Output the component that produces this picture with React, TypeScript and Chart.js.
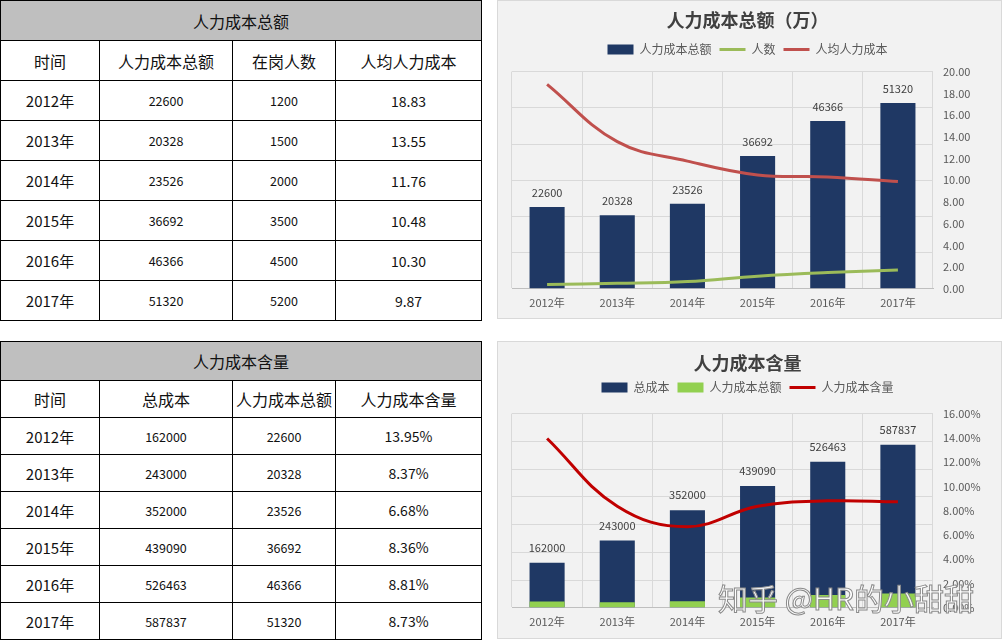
import React, { useEffect, useRef } from "react";
import { Chart, registerables } from "chart.js";

Chart.register(...registerables);

const FONT = '"Noto Sans CJK SC", "Noto Sans", "DejaVu Sans", sans-serif';

// ---- data ----
const years = ["2012年", "2013年", "2014年", "2015年", "2016年", "2017年"];
const laborCost = [22600, 20328, 23526, 36692, 46366, 51320];
const headcount = [1200, 1500, 2000, 3500, 4500, 5200];
const perCapita = [18.83, 13.55, 11.76, 10.48, 10.3, 9.87];
const totalCost = [162000, 243000, 352000, 439090, 526463, 587837];
const laborShare = [13.95, 8.37, 6.68, 8.36, 8.81, 8.73];

const table1Title = "人力成本总额";
const table1Headers = ["时间", "人力成本总额", "在岗人数", "人均人力成本"];
const table2Title = "人力成本含量";
const table2Headers = ["时间", "总成本", "人力成本总额", "人力成本含量"];

const chart1Title = "人力成本总额（万）";
const chart1Legend = ["人力成本总额", "人数", "人均人力成本"];
const chart2Title = "人力成本含量";
const chart2Legend = ["总成本", "人力成本总额", "人力成本含量"];

const watermark = "知乎 @HR的小甜甜";

// ---- plugins ----
const barLabels = {
  id: "barLabels",
  afterDatasetsDraw(chart: any, _args: any, opts: any) {
    const idx = opts && opts.datasetIndex;
    if (idx == null) return;
    const meta = chart.getDatasetMeta(idx);
    const data = chart.data.datasets[idx].data;
    const ctx = chart.ctx;
    ctx.save();
    ctx.font = `11px ${FONT}`;
    ctx.fillStyle = "#404040";
    ctx.textAlign = "center";
    ctx.textBaseline = "middle";
    meta.data.forEach((el: any, i: number) => {
      ctx.fillText(String(data[i]), el.x, el.y - (opts.offset || 14));
    });
    ctx.restore();
  },
};

const legendGap = (gap: number) => ({
  id: "legendGap",
  beforeInit(chart: any) {
    const legend = chart.legend;
    if (legend && !legend.__gapPatched) {
      const orig = legend.fit;
      legend.fit = function () {
        orig.call(this);
        this.height += gap;
      };
      legend.__gapPatched = true;
    }
  },
});

const legendOpts = {
  position: "top",
  labels: {
    usePointStyle: true,
    pointStyleWidth: 26,
    boxHeight: 10,
    padding: 8,
    color: "#595959",
    font: { size: 12, family: FONT },
    sort: (a: any, b: any) => a.datasetIndex - b.datasetIndex,
  },
};

const titleOpts = (text: string, top: number, bottom: number) => ({
  display: true,
  text,
  color: "#404040",
  font: { size: 18, weight: "bold", family: FONT },
  padding: { top, bottom },
});

const xScale = (stacked: boolean) => ({
  stacked,
  offset: true,
  grid: { color: "#d9d9d9", offset: true, drawTicks: false },
  border: { color: "#bfbfbf" },
  ticks: { color: "#595959", font: { size: 11, family: FONT }, padding: 7 },
});

function chart1Config(): any {
  return {
    type: "bar",
    data: {
      labels: years,
      datasets: [
        {
          type: "bar",
          label: chart1Legend[0],
          data: laborCost,
          backgroundColor: "#1f3864",
          borderWidth: 0,
          yAxisID: "y",
          order: 2,
          barPercentage: 0.5,
          categoryPercentage: 1,
          pointStyle: "rect",
        },
        {
          type: "line",
          label: chart1Legend[1],
          data: headcount,
          borderColor: "#9bbb59",
          backgroundColor: "#9bbb59",
          borderWidth: 3,
          pointRadius: 0,
          pointBorderWidth: 3,
          pointBorderColor: "#9bbb59",
          pointStyle: "line",
          tension: 0.4,
          yAxisID: "y",
          order: 0,
        },
        {
          type: "line",
          label: chart1Legend[2],
          data: perCapita,
          borderColor: "#c0504d",
          backgroundColor: "#c0504d",
          borderWidth: 3,
          pointRadius: 0,
          pointBorderWidth: 3,
          pointBorderColor: "#c0504d",
          pointStyle: "line",
          tension: 0.4,
          yAxisID: "y1",
          order: 0,
        },
      ],
    },
    options: {
      responsive: false,
      animation: false,
      layout: { padding: { left: 15, right: 19, top: 0, bottom: 3 } },
      plugins: {
        title: titleOpts(chart1Title, 9, 5),
        legend: legendOpts,
        tooltip: { enabled: false },
        barLabels: { datasetIndex: 0, offset: 14 },
      },
      scales: {
        x: xScale(false),
        y: {
          position: "left",
          min: 0,
          max: 60000,
          ticks: { display: false, stepSize: 10000 },
          grid: { color: "#d9d9d9", drawTicks: false },
          border: { display: false },
          afterFit: (s: any) => {
            s.width = 0;
          },
        },
        y1: {
          position: "right",
          min: 0,
          max: 20,
          ticks: {
            stepSize: 2,
            padding: 10,
            color: "#595959",
            font: { size: 11, family: FONT },
            callback: (v: any) => Number(v).toFixed(2),
          },
          grid: { display: false, drawTicks: false },
          border: { display: false },
          afterFit: (s: any) => {
            s.width = 50;
          },
        },
      },
    },
    plugins: [barLabels, legendGap(6)],
  };
}

function chart2Config(): any {
  return {
    type: "bar",
    data: {
      labels: years,
      datasets: [
        {
          type: "bar",
          label: chart2Legend[0],
          data: totalCost,
          backgroundColor: "#1f3864",
          borderWidth: 0,
          yAxisID: "y",
          order: 2,
          barPercentage: 0.5,
          categoryPercentage: 1,
          pointStyle: "rect",
        },
        {
          type: "bar",
          label: chart2Legend[1],
          data: laborCost,
          backgroundColor: "#92d050",
          borderWidth: 0,
          yAxisID: "y",
          order: 1,
          barPercentage: 0.5,
          categoryPercentage: 1,
          pointStyle: "rect",
        },
        {
          type: "line",
          label: chart2Legend[2],
          data: laborShare,
          borderColor: "#c00000",
          backgroundColor: "#c00000",
          borderWidth: 3,
          pointRadius: 0,
          pointBorderWidth: 3,
          pointBorderColor: "#c00000",
          pointStyle: "line",
          tension: 0.4,
          yAxisID: "y1",
          order: 0,
        },
      ],
    },
    options: {
      responsive: false,
      animation: false,
      layout: { padding: { left: 15, right: 19, top: 0, bottom: 4 } },
      plugins: {
        title: titleOpts(chart2Title, 11, 0),
        legend: legendOpts,
        tooltip: { enabled: false },
        barLabels: { datasetIndex: 0, offset: 15 },
      },
      scales: {
        x: xScale(true),
        y: {
          position: "left",
          stacked: false,
          min: 0,
          max: 700000,
          ticks: { display: false, stepSize: 100000 },
          grid: { color: "#d9d9d9", drawTicks: false },
          border: { display: false },
          afterFit: (s: any) => {
            s.width = 0;
          },
        },
        y1: {
          position: "right",
          min: 0,
          max: 16,
          ticks: {
            stepSize: 2,
            padding: 10,
            color: "#595959",
            font: { size: 11, family: FONT },
            callback: (v: any) => Number(v).toFixed(2) + "%",
          },
          grid: { display: false, drawTicks: false },
          border: { display: false },
          afterFit: (s: any) => {
            s.width = 50;
          },
        },
      },
    },
    plugins: [barLabels, legendGap(10)],
  };
}

function ChartPanel({ makeConfig, left, top, width, height }: any) {
  const ref = useRef<HTMLCanvasElement>(null);
  useEffect(() => {
    const chart = new Chart(ref.current as HTMLCanvasElement, makeConfig());
    return () => chart.destroy();
  }, []);
  return (
    <div
      style={{
        position: "absolute",
        left,
        top,
        width,
        height,
        background: "#f2f2f2",
        border: "1px solid #d9d9d9",
        boxSizing: "border-box",
      }}
    >
      <canvas
        ref={ref}
        width={width}
        height={height}
        style={{ position: "absolute", left: -1, top: -1, width, height }}
      />
    </div>
  );
}

const colWidths = [99, 133, 103, 146];
const colFont = [15, 12.5, 12.5, 14];

function DataTable({ top, title, headers, rows, titleH, rowH }: any) {
  const cell: React.CSSProperties = {
    border: "1px solid #000",
    textAlign: "center",
    verticalAlign: "middle",
    padding: 0,
    whiteSpace: "nowrap",
    overflow: "hidden",
  };
  return (
    <table
      style={{
        position: "absolute",
        left: 0,
        top,
        width: 481,
        borderCollapse: "collapse",
        tableLayout: "fixed",
        fontFamily: FONT,
        color: "#111",
      }}
    >
      <colgroup>
        {colWidths.map((w, i) => (
          <col key={i} style={{ width: w }} />
        ))}
      </colgroup>
      <tbody>
        <tr style={{ height: titleH }}>
          <td colSpan={4} style={{ ...cell, background: "#bfbfbf", fontSize: 16 }}>
            {title}
          </td>
        </tr>
        <tr style={{ height: rowH }}>
          {headers.map((h: string, i: number) => (
            <td key={i} style={{ ...cell, fontSize: 16 }}>
              {h}
            </td>
          ))}
        </tr>
        {rows.map((r: string[], ri: number) => (
          <tr key={ri} style={{ height: rowH }}>
            {r.map((c, ci) => (
              <td key={ci} style={{ ...cell, fontSize: colFont[ci] }}>
                {c}
              </td>
            ))}
          </tr>
        ))}
      </tbody>
    </table>
  );
}

export default function App() {
  useEffect(() => {
    document.body.style.margin = "0";
  }, []);
  const rows1 = years.map((y, i) => [
    y,
    String(laborCost[i]),
    String(headcount[i]),
    perCapita[i].toFixed(2),
  ]);
  const rows2 = years.map((y, i) => [
    y,
    String(totalCost[i]),
    String(laborCost[i]),
    laborShare[i].toFixed(2) + "%",
  ]);
  return (
    <div
      style={{
        position: "relative",
        width: 1002,
        height: 640,
        background: "#fff",
        overflow: "hidden",
        fontFamily: FONT,
      }}
    >
      <DataTable top={0} title={table1Title} headers={table1Headers} rows={rows1} titleH={40} rowH={40} />
      <DataTable top={341} title={table2Title} headers={table2Headers} rows={rows2} titleH={39} rowH={37} />
      <ChartPanel makeConfig={chart1Config} left={497} top={0} width={505} height={319} />
      <ChartPanel makeConfig={chart2Config} left={497} top={341} width={505} height={298} />
      <div
        style={{
          position: "absolute",
          left: 718,
          top: 577,
          fontSize: 30,
          lineHeight: "40px",
          color: "rgba(255,255,255,0.92)",
          WebkitTextStroke: "1px #8a8a8a",
          fontFamily: FONT,
          whiteSpace: "nowrap",
          pointerEvents: "none",
        }}
      >
        {watermark}
      </div>
    </div>
  );
}
